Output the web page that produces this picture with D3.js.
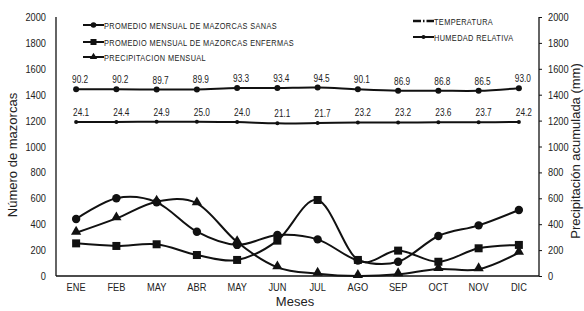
<!DOCTYPE html>
<html lang="es">
<head>
<meta charset="UTF-8">
<title>Mazorcas</title>
<script src="https://d3js.org/d3.v7.min.js"></script>
<style>
    body { margin: 0; background: #fff; }
    svg { display: block; }
    .narrow { font-family: "Liberation Sans", Arial, sans-serif; fill: #222; }
    .title { font-family: "Liberation Sans", Arial, sans-serif; fill: #222; font-size: 13px; }
    .serie { fill: none; stroke: #111; stroke-width: 2px; }
</style>
</head>
<body>
<script>
    // Datos
    var meses = ["ENE", "FEB", "MAY", "ABR", "MAY", "JUN", "JUL", "AGO", "SEP", "OCT", "NOV", "DIC"];
    var sanas = [440, 600, 569, 342, 240, 317, 283, 120, 110, 309, 391, 510];
    var enfermas = [252, 232, 245, 162, 124, 273, 587, 124, 196, 110, 214, 240];
    var precipitacion = [334, 445, 574, 561, 262, 67, 18, 0, 13, 54, 52, 180];
    var temperatura = [24.1, 24.4, 24.9, 25.0, 24.0, 21.1, 21.7, 23.2, 23.2, 23.6, 23.7, 24.2];
    var humedad = [90.2, 90.2, 89.7, 89.9, 93.3, 93.4, 94.5, 90.1, 86.9, 86.8, 86.5, 93.0];
    var ticks = [0, 200, 400, 600, 800, 1000, 1200, 1400, 1600, 1800, 2000];

    var W = 584, H = 311;
    var xLeft = 56, xRight = 539, yTop = 17, yBottom = 276;

    var svg = d3.select("body").append("svg")
        .attr("width", W)
        .attr("height", H);

    // sin fuente "narrow" instalada: se comprime el texto
    function condense(sel, k) {
        sel.each(function () {
            var w = this.getComputedTextLength();
            d3.select(this).attr("textLength", w * k).attr("lengthAdjust", "spacingAndGlyphs");
        });
    }

    var x = d3.scaleBand().domain(d3.range(meses.length)).range([xLeft, xRight]);
    var y = d3.scaleLinear().domain([0, 2000]).range([yBottom, yTop]);
    // escalas propias para temperatura y humedad (se dibujan en la parte alta)
    var yTemp = d3.scaleLinear().domain([20, 26]).range([y(1175), y(1195)]);
    var yHum = d3.scaleLinear().domain([80, 100]).range([y(1410), y(1472)]);

    function cx(i) { return x(i) + x.bandwidth() / 2; }

    // ejes
    var axL = svg.append("g").attr("transform", "translate(" + xLeft + ",0)")
        .call(d3.axisLeft(y).tickValues(ticks).tickSize(0).tickPadding(10).tickFormat(d3.format("d")));
    var axR = svg.append("g").attr("transform", "translate(" + xRight + ",0)")
        .call(d3.axisRight(y).tickValues(ticks).tickSize(3).tickPadding(6).tickFormat(d3.format("d")));
    var axB = svg.append("g").attr("transform", "translate(0," + yBottom + ")")
        .call(d3.axisBottom(x).tickSize(0).tickPadding(7).tickFormat(function (i) { return meses[i]; }));

    [axL, axR, axB].forEach(function (a) {
        a.select(".domain").attr("stroke", "#111").attr("stroke-width", 1.3);
        a.selectAll(".tick line").attr("stroke", "#111");
        a.selectAll("text").attr("class", "narrow").attr("font-size", 11).attr("fill", "#222")
            .call(condense, 0.84);
    });
    axL.select(".domain").attr("d", "M0," + yBottom + "V" + yTop);
    axR.select(".domain").attr("d", "M0," + yBottom + "V" + yTop);
    axB.select(".domain").attr("d", "M" + xLeft + ",0H" + xRight);

    // títulos
    svg.append("text").attr("class", "title")
        .attr("transform", "translate(17,155) rotate(-90)")
        .attr("text-anchor", "middle").text("Número de mazorcas");
    svg.append("text").attr("class", "title")
        .attr("transform", "translate(580,151) rotate(-90)")
        .attr("text-anchor", "middle").text("Precipitación acumulada  (mm)");
    svg.append("text").attr("class", "title")
        .attr("x", 295).attr("y", 306)
        .attr("text-anchor", "middle").text("Meses");

    var curve = d3.curveCardinal.tension(0);

    function serie(data, sc, sw) {
        var line = d3.line()
            .x(function (d, i) { return cx(i); })
            .y(function (d) { return sc(d); })
            .curve(curve);
        svg.append("path").datum(data).attr("class", "serie")
            .attr("stroke-width", sw).attr("d", line);
    }

    function marker(g, tipo, px, py, s) {
        if (tipo === "circle") {
            g.append("circle").attr("cx", px).attr("cy", py).attr("r", s).attr("fill", "#111");
        } else if (tipo === "square") {
            g.append("rect").attr("x", px - s).attr("y", py - s)
                .attr("width", 2 * s).attr("height", 2 * s).attr("fill", "#111");
        } else {
            g.append("path").attr("transform", "translate(" + px + "," + py + ")")
                .attr("d", d3.symbol(d3.symbolTriangle, s * s * 2.6)()).attr("fill", "#111");
        }
    }

    serie(sanas, y, 1.8);
    serie(enfermas, y, 1.8);
    serie(precipitacion, y, 1.8);
    serie(humedad, yHum, 2.6);
    serie(temperatura, yTemp, 2);

    var marks = svg.append("g");
    sanas.forEach(function (d, i) { marker(marks, "circle", cx(i), y(d), 4.2); });
    enfermas.forEach(function (d, i) { marker(marks, "square", cx(i), y(d), 4); });
    precipitacion.forEach(function (d, i) { marker(marks, "triangle", cx(i), y(d) - 1, 4.2); });
    humedad.forEach(function (d, i) { marker(marks, "circle", cx(i), yHum(d), 3); });
    temperatura.forEach(function (d, i) { marker(marks, "circle", cx(i), yTemp(d), 2); });

    // etiquetas de valores
    svg.append("g").selectAll("text").data(humedad).join("text")
        .attr("class", "narrow").attr("font-size", 11.5)
        .attr("text-anchor", "middle")
        .attr("x", function (d, i) { return cx(i) + 4; })
        .attr("y", function (d) { return yHum(d) - 6; })
        .text(function (d) { return d.toFixed(1); })
        .call(condense, 0.72);
    svg.append("g").selectAll("text").data(temperatura).join("text")
        .attr("class", "narrow").attr("font-size", 11.5)
        .attr("text-anchor", "middle")
        .attr("x", function (d, i) { return cx(i) + 5; })
        .attr("y", function (d) { return yTemp(d) - 6; })
        .text(function (d) { return d.toFixed(1); })
        .call(condense, 0.72);

    // leyenda
    var leyenda = [
        { label: "PROMEDIO MENSUAL DE MAZORCAS SANAS", tipo: "circle", s: 2.8, x: 83, y: 25 },
        { label: "PROMEDIO MENSUAL DE MAZORCAS ENFERMAS", tipo: "square", s: 3, x: 83, y: 42 },
        { label: "PRECIPITACION MENSUAL", tipo: "triangle", s: 3, x: 83, y: 57 },
        { label: "TEMPERATURA", tipo: "dashdot", s: 0, x: 413, y: 21 },
        { label: "HUMEDAD RELATIVA", tipo: "circle", s: 2, x: 413, y: 37 }
    ];
    var lg = svg.append("g");
    leyenda.forEach(function (d) {
        var line = lg.append("line")
            .attr("x1", d.x).attr("x2", d.x + 21)
            .attr("y1", d.y).attr("y2", d.y)
            .attr("stroke", "#111").attr("stroke-width", 2);
        if (d.tipo === "dashdot") {
            line.attr("stroke-width", 2.5).attr("stroke-dasharray", "8,2,1.5,2,8");
        } else {
            marker(lg, d.tipo, d.x + 10.5, d.y, d.s);
        }
        lg.append("text").attr("class", "narrow")
            .attr("font-size", 9.8).attr("letter-spacing", 0.5)
            .attr("x", d.x + 21).attr("y", d.y + 3.5)
            .text(d.label)
            .call(condense, 0.75);
    });
</script>
</body>
</html>
